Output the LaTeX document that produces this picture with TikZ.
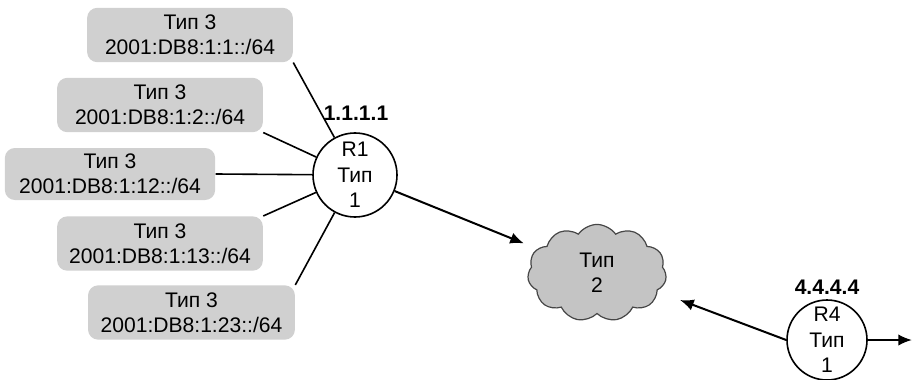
\documentclass[tikz,border=0pt]{standalone}
\usepackage{fontspec}
\setmainfont{Liberation Sans}
\usepackage{tikz}
\usetikzlibrary{shapes.geometric,shapes.symbols,arrows.meta,positioning}
\definecolor{grisBoite}{RGB}{208,208,208}
\definecolor{grisNuage}{RGB}{196,196,196}
\definecolor{traitNuage}{RGB}{70,70,70}

\begin{document}
\begin{tikzpicture}[font=\fontsize{10.5}{12.6}\selectfont,
    subnet/.style={fill=grisBoite, rounded corners=5pt, align=center,
                   minimum width=3.6cm, minimum height=0.95cm, inner sep=1pt},
    routeur/.style={circle, draw, line width=0.8pt, fill=white, align=center,
                    inner sep=0pt},
    rid/.style={font=\fontsize{10.5}{12.6}\selectfont\bfseries},
    lien/.style={line width=0.8pt},
    arr/.style={-{Latex[length=2.4mm,width=2mm]}, line width=1pt}]

\useasboundingbox (0,0) rectangle (16.03,6.6325);

% sous-reseaux de type 3
\node[subnet] (b1) at (3.325,6.02) {Тип 3\\2001:DB8:1:1::/64};
\node[subnet] (b2) at (2.8,4.795) {Тип 3\\2001:DB8:1:2::/64};
\node[subnet, minimum width=3.68cm, minimum height=0.91cm] (b3) at (1.925,3.5875) {Тип 3\\2001:DB8:1:12::/64};
\node[subnet] (b4) at (2.8,2.371) {Тип 3\\2001:DB8:1:13::/64};
\node[subnet, minimum width=3.62cm] (b5) at (3.351,1.164) {Тип 3\\2001:DB8:1:23::/64};

% routeurs
\node[routeur, minimum size=1.47cm] (r1) at (6.2125,3.57) {R1\\Тип\\1};
\node[rid] (r1id) at (6.23,4.655) {1.1.1.1};

\node[routeur, minimum size=1.4cm] (r4) at (14.4725,0.6825) {R4\\Тип\\1};
\node[rid] (r4id) at (14.4725,1.61) {4.4.4.4};

% zone de type 2
\node[cloud, cloud puffs=11, cloud puff arc=110, aspect=1.45, fill=grisNuage,
      draw=traitNuage, line width=0.6pt, inner sep=0pt, align=center,
      minimum width=2.43cm, minimum height=1.7cm] (cloud) at (10.4475,1.855) {Тип\\2};

\coordinate (r4tip) at (11.9,1.3825);
\coordinate (r4out) at (15.96,0.6825);

\draw[lien] (b1.south east) -- (r1);
\draw[lien] (b2.south east) -- (r1);
\draw[lien] (b3.east) -- (r1);
\draw[lien] (b4.north east) -- (r1);
\draw[lien] (b5.north east) -- (r1);

\draw[arr, shorten >=0.25cm] (r1) -- (cloud);
\draw[arr] (r4.west) -- (r4tip);
\draw[arr] (r4.east) -- (r4out);

\end{tikzpicture}
\end{document}
